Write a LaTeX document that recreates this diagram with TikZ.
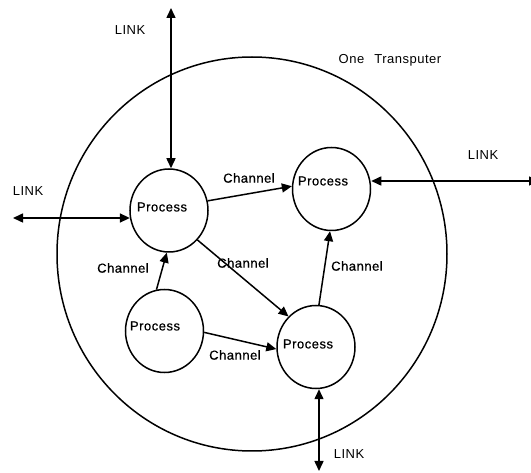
\documentclass[tikz,border=0pt]{standalone}
\usepackage{fontspec}
\setmainfont{Liberation Sans}[LetterSpace=4]
\newfontfamily\boldishfont{Liberation Sans}[LetterSpace=4,FakeBold=0.6]
\usetikzlibrary{shapes.geometric,arrows.meta,calc}
\begin{document}
\begin{tikzpicture}[x=1pt,y=-1pt,
  line width=1.5pt,
  proc/.style={draw,ellipse,minimum width=78pt,minimum height=83pt,inner sep=0pt},
  txt/.style={font=\fontsize{13}{15}\selectfont,inner sep=0pt},
  btxt/.style={font=\boldishfont\fontsize{13}{15}\selectfont,inner sep=0pt},
  tip/.style={-{Triangle[length=10pt,width=9pt]}},
  both/.style={{Triangle[length=10pt,width=9pt]}-{Triangle[length=10pt,width=9pt]}}]
\clip (0,0) rectangle (531,473);
\fill[white] (0,0) rectangle (531,473);
% big circle
\node[draw,ellipse,minimum width=390pt,minimum height=394pt,inner sep=0pt] (tp) at (252,254) {};
% processes
\node[proc] (p1) at (169,210.5) {};
\node[proc] (p2) at (331.5,189) {};
\node[proc] (p3) at (164.5,331) {};
\node[proc] (p4) at (316,347) {};
\node[btxt] (t1) at (162,207) {Process};
\node[btxt] (t2) at (323,181) {Process};
\node[btxt] (t3) at (155,326) {Process};
\node[btxt] (t4) at (308,344) {Process};
% labels
\node[txt] (ot) at (390,60) {One\hspace{10pt}Transputer};
\node[txt] (l1) at (130,30) {LINK};
\node[txt] (l2) at (28,191) {LINK};
\node[txt] (l3) at (483,155) {LINK};
\node[txt] (l4) at (349,454.5) {LINK};
\node[btxt] (c1) at (249,178) {Channel};
\node[btxt] (c2) at (243,263) {Channel};
\node[btxt] (c3) at (123,268) {Channel};
\node[btxt] (c4) at (235,355) {Channel};
\node[btxt] (c5) at (357,266) {Channel};
% link endpoints
\coordinate (e1) at (171,8);
\coordinate (e2) at (13,218);
\coordinate (e3) at (539,181);
\coordinate (e4) at (319,471);
% links
\draw[both] (e1) -- (e1 |- p1.north);
\draw[both] (e2) -- ($(p1.west)+(0.6,7.5)$);
\draw[both] (e3) -- (e3 -| p2.east);
\draw[both] (e4) -- (e4 |- p4.south);
% channels
\draw[tip] (p1.14) -- (p2.176);
\draw[tip] (p1.-46) -- (p4.132);
\draw[tip] (p3.101) -- (p1.267);
\draw[tip] (p3.-2) -- (p4.183);
\draw[tip] (p4.86) -- (p2.268);
\end{tikzpicture}
\end{document}
